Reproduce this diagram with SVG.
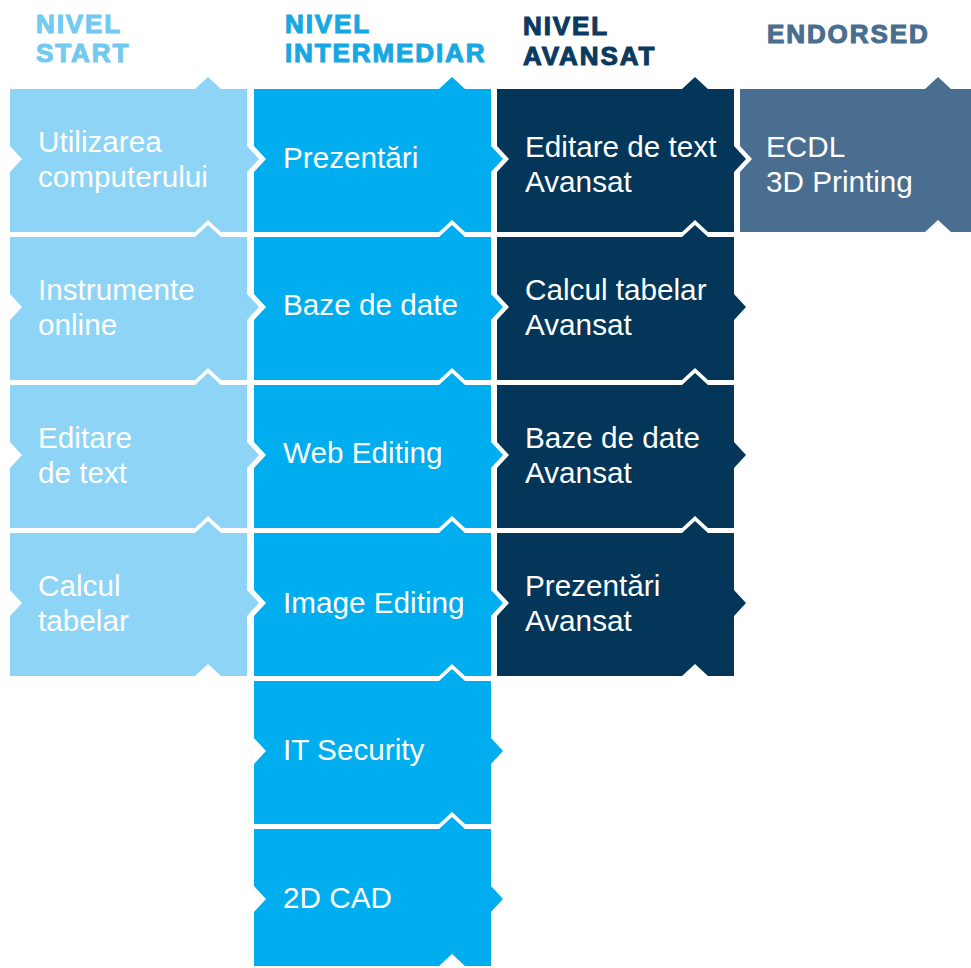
<svg xmlns="http://www.w3.org/2000/svg" xmlns:xlink="http://www.w3.org/1999/xlink" width="971" height="968" viewBox="0 0 971 968">
<style>
.t{font-family:"Liberation Sans",Arial,Helvetica,sans-serif;font-size:29.7px;fill:#ffffff}
.h{font-family:"Liberation Sans",Arial,Helvetica,sans-serif;font-size:26px;font-weight:bold;letter-spacing:1.9px;stroke-width:1.1px}
.c1{fill:#8dd4f6}.c2{fill:#00adee}.c3{fill:#033659}.c4{fill:#4a6e8f}
.h1{fill:#72caf0;stroke:#72caf0}.h2{fill:#17a8e3;stroke:#17a8e3}.h3{fill:#0b3a5f;stroke:#0b3a5f}.h4{fill:#4a6e8f;stroke:#4a6e8f}
</style>
<defs>
<path id="tile" d="M0,0 H185 L198,-12 L211,0 H237 V57 L249,70 L237,83 V143 H211 L198,131 L185,143 H0 V83 L12,70 L0,57 Z"/>
<path id="tileLast" d="M0,0 H185 L198,-12 L211,0 H237 V57 L249,70 L237,83 V137 H211 L198,125 L185,137 H0 V83 L12,70 L0,57 Z"/>
</defs>
<rect width="971" height="968" fill="#ffffff"/>
<g id="headers">
<text class="h h1" x="36" y="33">NIVEL</text>
<text class="h h1" x="36" y="62">START</text>
<text class="h h2" x="285" y="33">NIVEL</text>
<text class="h h2" x="285" y="62">INTERMEDIAR</text>
<text class="h h3" x="523" y="35">NIVEL</text>
<text class="h h3" x="523" y="65">AVANSAT</text>
<text class="h h4" x="767" y="43">ENDORSED</text>
</g>
<g id="start-1" transform="translate(10,89)"><use xlink:href="#tile" class="c1"/><text class="t" x="28" y="63">Utilizarea</text><text class="t" x="28" y="98">computerului</text></g>
<g id="start-2" transform="translate(10,237)"><use xlink:href="#tile" class="c1"/><text class="t" x="28" y="63">Instrumente</text><text class="t" x="28" y="98">online</text></g>
<g id="start-3" transform="translate(10,385)"><use xlink:href="#tile" class="c1"/><text class="t" x="28" y="63">Editare</text><text class="t" x="28" y="98">de text</text></g>
<g id="start-4" transform="translate(10,533)"><use xlink:href="#tile" class="c1"/><text class="t" x="28" y="63">Calcul</text><text class="t" x="28" y="98">tabelar</text></g>
<g id="inter-1" transform="translate(254,89)"><use xlink:href="#tile" class="c2"/><text class="t" x="29" y="79">Prezentări</text></g>
<g id="inter-2" transform="translate(254,237)"><use xlink:href="#tile" class="c2"/><text class="t" x="29" y="78">Baze de date</text></g>
<g id="inter-3" transform="translate(254,385)"><use xlink:href="#tile" class="c2"/><text class="t" x="29" y="78">Web Editing</text></g>
<g id="inter-4" transform="translate(254,533)"><use xlink:href="#tile" class="c2"/><text class="t" x="29" y="80">Image Editing</text></g>
<g id="inter-5" transform="translate(254,681)"><use xlink:href="#tile" class="c2"/><text class="t" x="29" y="79">IT Security</text></g>
<g id="inter-6" transform="translate(254,829)"><use xlink:href="#tileLast" class="c2"/><text class="t" x="29" y="79">2D CAD</text></g>
<g id="avansat-1" transform="translate(497,89)"><use xlink:href="#tile" class="c3"/><text class="t" x="28" y="68">Editare de text</text><text class="t" x="28" y="103">Avansat</text></g>
<g id="avansat-2" transform="translate(497,237)"><use xlink:href="#tile" class="c3"/><text class="t" x="28" y="63">Calcul tabelar</text><text class="t" x="28" y="98">Avansat</text></g>
<g id="avansat-3" transform="translate(497,385)"><use xlink:href="#tile" class="c3"/><text class="t" x="28" y="63">Baze de date</text><text class="t" x="28" y="98">Avansat</text></g>
<g id="avansat-4" transform="translate(497,533)"><use xlink:href="#tile" class="c3"/><text class="t" x="28" y="63">Prezentări</text><text class="t" x="28" y="98">Avansat</text></g>
<g id="endorsed-1" transform="translate(740,89)"><use xlink:href="#tile" class="c4"/><text class="t" x="26" y="68">ECDL</text><text class="t" x="26" y="103">3D Printing</text></g>
</svg>
